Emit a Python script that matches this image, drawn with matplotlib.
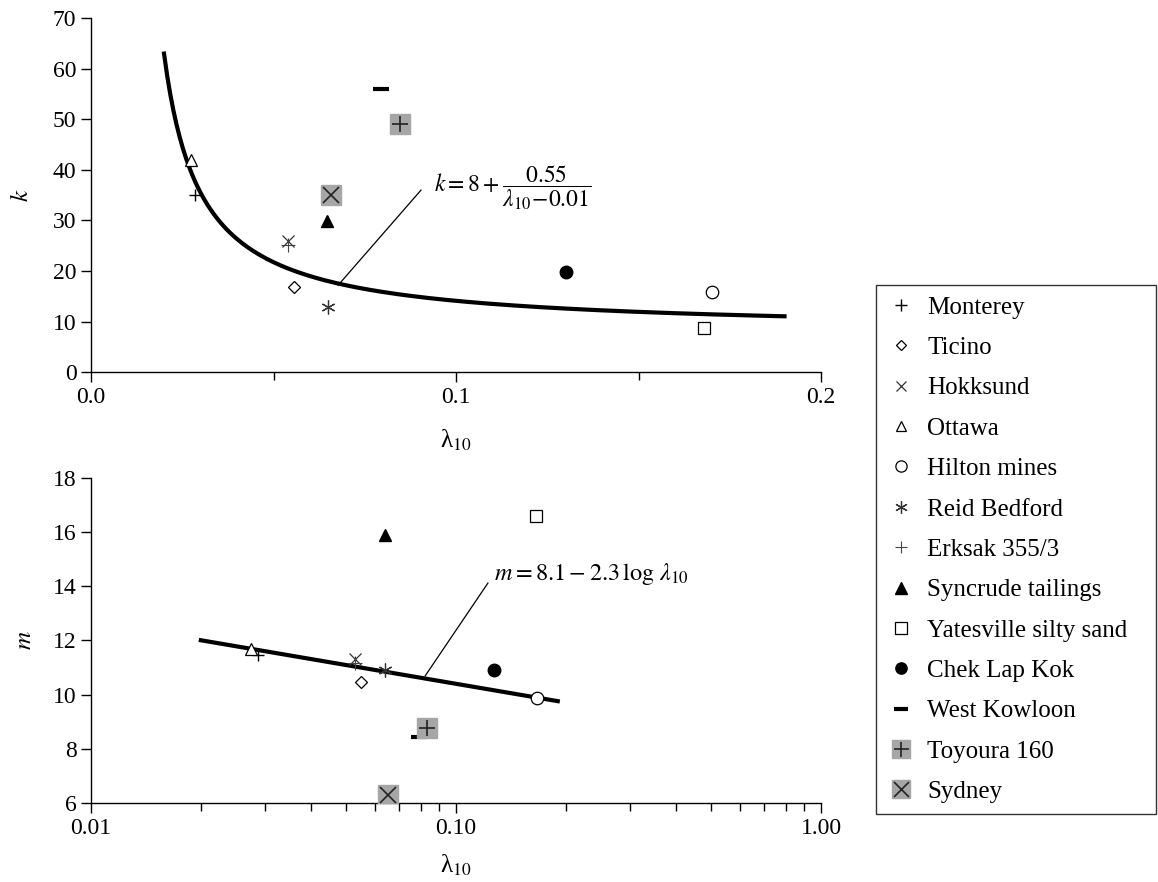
import numpy as np
import matplotlib
matplotlib.use("Agg")
import matplotlib.pyplot as plt
from matplotlib.ticker import MultipleLocator, FixedLocator, LogLocator, NullFormatter
from matplotlib.legend_handler import HandlerTuple

plt.rcParams["font.family"] = ["Liberation Serif", "DejaVu Serif"]
plt.rcParams["mathtext.fontset"] = "stix"

# -----------------------------
# data
# -----------------------------
names = ["Monterey", "Ticino", "Hokksund", "Ottawa", "Hilton mines", "Reid Bedford",
         "Erksak 355/3", "Syncrude tailings", "Yatesville silty sand", "Chek Lap Kok",
         "West Kowloon", "Toyoura 160", "Sydney"]

# top panel: lambda_10 vs k
lam_k = [0.0285, 0.0556, 0.0540, 0.0274, 0.1700, 0.0650, 0.0540, 0.0647, 0.1680, 0.1300,
         0.0795, 0.0847, 0.0658]
k_vals = [35.0, 16.8, 26.0, 42.0, 15.9, 12.9, 25.2, 29.9, 8.7, 19.8, 56.0, 49.0, 35.0]

# bottom panel: lambda_10 vs m
lam_m = [0.0286, 0.0550, 0.0528, 0.0274, 0.1670, 0.0637, 0.0528, 0.0640, 0.1660, 0.1270,
         0.0790, 0.0832, 0.0650]
m_vals = [11.46, 10.47, 11.30, 11.69, 9.88, 10.90, 11.15, 15.9, 16.6, 10.9, 8.44, 8.77, 6.3]

# fitted relationships printed on the chart
k_a, k_b, k_c = 8.0, 0.55, 0.01
m_a, m_b = 8.1, 2.3
lam_fit = np.linspace(0.02, 0.19, 200)

# marker styles per sand
styles = {
    "Monterey": dict(marker="+", color="black", ms=9, mew=1.0),
    "Ticino": dict(marker="D", mfc="white", mec="black", ms=6, mew=0.9),
    "Hokksund": dict(marker="x", color="#333333", ms=8, mew=0.9),
    "Ottawa": dict(marker="^", mfc="white", mec="black", ms=8, mew=0.9),
    "Hilton mines": dict(marker="o", mfc="white", mec="black", ms=9, mew=0.9),
    "Reid Bedford": dict(marker=(6, 2, 0), color="#333333", ms=10, mew=0.9),
    "Erksak 355/3": dict(marker="+", color="#444444", ms=10, mew=0.8),
    "Syncrude tailings": dict(marker="^", color="black", ms=9),
    "Yatesville silty sand": dict(marker="s", mfc="white", mec="black", ms=9, mew=0.9),
    "Chek Lap Kok": dict(marker="o", color="black", ms=9),
    "West Kowloon": dict(marker="_", color="black", ms=11, mew=3),
}
boxed = {"Toyoura 160": "+", "Sydney": "x"}

fig = plt.figure(figsize=(11.58, 8.82), dpi=100)
ax1 = fig.add_axes([0.0786, 0.578, 0.6304, 0.4014])
ax2 = fig.add_axes([0.0786, 0.0896, 0.6304, 0.3685])


def draw_points(ax, xs, ys):
    handles = []
    for name, x, y in zip(names, xs, ys):
        if name in boxed:
            h1, = ax.plot([x], [y], ls="none", marker="s", ms=14.5, mfc="#a6a6a6",
                          mec="#a6a6a6", zorder=3)
            h2, = ax.plot([x], [y], ls="none", marker=boxed[name], ms=12,
                          color="#222222", mew=1.2, zorder=4)
            handles.append((h1, h2))
        else:
            h, = ax.plot([x], [y], ls="none", zorder=3, **styles[name])
            handles.append(h)
    return handles


def style_axis(ax):
    for s in ("top", "right"):
        ax.spines[s].set_visible(False)
    ax.spines["left"].set_linewidth(1.0)
    ax.spines["bottom"].set_linewidth(1.0)
    ax.tick_params(direction="out", length=7, width=1, labelsize=17)
    ax.tick_params(which="minor", direction="out", length=6, width=1)


lam_label = "λ$_{10}$"

## top: k vs lambda
ax1.plot(lam_fit, k_a + k_b / (lam_fit - k_c), color="black", lw=3, zorder=2)
draw_points(ax1, lam_k, k_vals)
ax1.plot([0.0677, 0.0904], [17.2, 36.0], color="black", lw=0.9)
ax1.text(0.0940, 36.5, r"$k = 8 + \dfrac{0.55}{\lambda_{10}\!-\!0.01}$", fontsize=17,
         va="center", ha="left")
ax1.set_xlim(0, 0.2)
ax1.set_ylim(0, 70)
ax1.xaxis.set_major_locator(FixedLocator([0.0, 0.1, 0.2]))
ax1.xaxis.set_minor_locator(FixedLocator([0.05, 0.15]))
ax1.yaxis.set_major_locator(MultipleLocator(10))
ax1.set_xticklabels(["0.0", "0.1", "0.2"])
ax1.set_xlabel(lam_label, fontsize=18, labelpad=14)
ax1.set_ylabel(r"$k$", fontsize=18, labelpad=14)
style_axis(ax1)

## bottom: m vs lambda (log scale)
ax2.set_xscale("log")
ax2.plot(lam_fit, m_a - m_b * np.log10(lam_fit), color="black", lw=3, zorder=2)
handles = draw_points(ax2, lam_m, m_vals)
ax2.plot([0.0823, 0.1223], [10.69, 14.12], color="black", lw=0.9)
ax2.text(0.127, 14.45, r"$m = 8.1 - 2.3\,\log\,\lambda_{10}$", fontsize=17.5,
         va="center", ha="left")
ax2.set_xlim(0.01, 1.0)
ax2.set_ylim(6, 18)
ax2.xaxis.set_major_locator(FixedLocator([0.01, 0.1, 1.0]))
ax2.xaxis.set_minor_locator(LogLocator(base=10, subs=np.arange(2, 10)))
ax2.xaxis.set_minor_formatter(NullFormatter())
ax2.set_xticklabels(["0.01", "0.10", "1.00"])
ax2.yaxis.set_major_locator(MultipleLocator(2))
ax2.set_xlabel(lam_label, fontsize=18, labelpad=10)
ax2.set_ylabel(r"$m$", fontsize=18, labelpad=12)
style_axis(ax2)

leg = fig.legend(handles, names, loc="upper left",
                 bbox_to_anchor=(0.7565, 0.0, 0.2415, 0.677), mode="expand",
                 fontsize=18, frameon=True, fancybox=False, edgecolor="black",
                 handler_map={tuple: HandlerTuple(ndivide=1, pad=0)},
                 handlelength=1.1, handletextpad=0.5, labelspacing=0.715,
                 borderpad=0.45, borderaxespad=0, markerscale=0.9)
leg.get_frame().set_linewidth(1.0)

fig.savefig("out.png", dpi=100, facecolor="white")
